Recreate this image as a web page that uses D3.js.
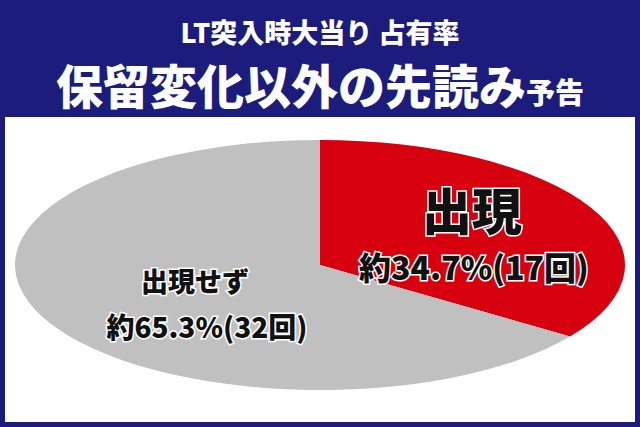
<!DOCTYPE html>
<html><head><meta charset="utf-8">
<script src="https://cdn.jsdelivr.net/npm/d3@7"></script>
<style>body{margin:0}svg{display:block}</style>
</head><body>
<script>
var labels = ["出現", "出現せず"];
var values = [34.7, 65.3];
var counts = [17, 32];
var colors = ["#d7000f", "#c0c0c0"];

var W = 640, H = 427;
var svg = d3.select("body").append("svg").attr("width", W).attr("height", H);
var font = "'Noto Sans CJK JP', sans-serif";

svg.append("rect").attr("width", W).attr("height", H).attr("fill", "#1c1c7c");
svg.append("rect").attr("x", 5).attr("y", 117).attr("width", 630).attr("height", 305).attr("fill", "#fff");

svg.append("text").attr("x", 320).attr("y", 43).attr("text-anchor", "middle")
  .attr("fill", "#fff").attr("font-family", font).attr("font-weight", 900).attr("font-size", 27)
  .text("LT突入時大当り 占有率");
var t = svg.append("text").attr("x", 320).attr("y", 104).attr("text-anchor", "middle")
  .attr("fill", "#fff").attr("font-family", font).attr("font-weight", 900).attr("font-size", 47);
t.append("tspan").text("保留変化以外の先読み");
t.append("tspan").attr("font-size", 29).text("予告");

var cx = 320, cy = 265, rx = 305, ry = 125;
var pie = d3.pie().sort(null).value(function(d){ return d; });
var arc = d3.arc().innerRadius(0).outerRadius(rx);
var g = svg.append("g").attr("transform", "translate(" + cx + "," + cy + ") scale(1," + (ry / rx) + ")");
g.selectAll("path").data(pie(values)).enter().append("path")
  .attr("d", arc).attr("fill", function(d, i){ return colors[i]; });

function label(x, y, size, txt) {
  svg.append("text").attr("x", x).attr("y", y).attr("text-anchor", "middle")
    .attr("font-family", font).attr("font-weight", 900).attr("font-size", size)
    .attr("fill", "#111").attr("stroke", "#fff").attr("stroke-width", 3).attr("paint-order", "stroke")
    .text(txt);
}
label(472, 230, 50, labels[0]);
label(474, 280, 32, "約" + values[0] + "%(" + counts[0] + "回)");
label(195, 292, 27, labels[1]);
label(207, 338, 28, "約" + values[1] + "%(" + counts[1] + "回)");
</script>
</body></html>
